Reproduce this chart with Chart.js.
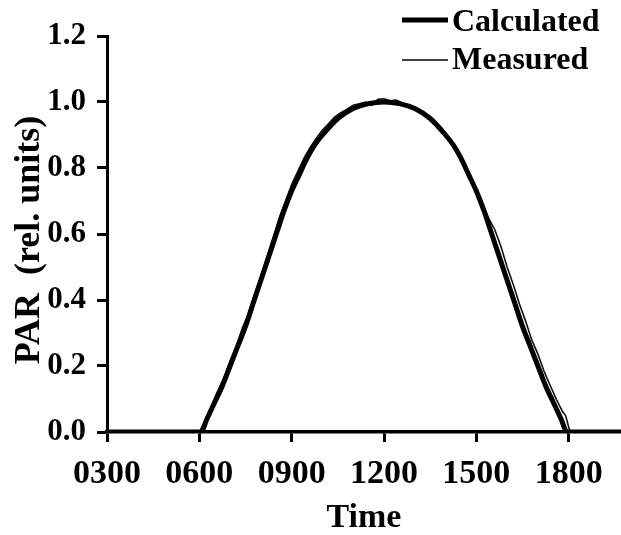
<!DOCTYPE html>
<html>
<head>
<meta charset="utf-8">
<script src="https://cdn.jsdelivr.net/npm/chart.js@4/dist/chart.umd.min.js"></script>
<style>
  html, body { margin: 0; padding: 0; background: #fff; }
  #wrap { width: 621px; height: 535px; }
</style>
</head>
<body>
<div id="wrap"><canvas id="c" width="621" height="535"></canvas></div>
<script>
// ---- data (time in hours, PAR in relative units) ----
const calcTimes = [3, 6.05, 6.25, 6.5, 6.75, 7.0, 7.25, 7.5, 7.75, 8.0, 8.25, 8.5, 8.75, 9.0, 9.25, 9.5, 9.75, 10.0, 10.5, 11.0, 11.5, 12.0,
  12.5, 13.0, 13.5, 14.0, 14.25, 14.5, 14.75, 15.0, 15.25, 15.5, 15.75, 16.0, 16.25, 16.5, 16.75, 17.0, 17.25, 17.5, 17.75, 17.95, 19.7];
const calcValues = [0, 0, 0.04, 0.09, 0.14, 0.20, 0.26, 0.32, 0.39, 0.46, 0.53, 0.60, 0.67, 0.73, 0.78, 0.83, 0.87, 0.90, 0.95, 0.98, 0.995, 1.0,
  0.995, 0.98, 0.95, 0.90, 0.87, 0.83, 0.78, 0.73, 0.67, 0.60, 0.53, 0.46, 0.39, 0.32, 0.26, 0.20, 0.14, 0.09, 0.04, 0, 0];

const measTimes = [3, 5.9, 6.0, 6.2, 6.4, 6.6, 6.8, 7.0, 7.2, 7.4, 7.6, 7.8, 8.0, 8.2, 8.4, 8.6, 8.8, 9.0, 9.2, 9.4, 9.6, 9.8,
  10.0, 10.2, 10.4, 10.6, 10.8, 11.0, 11.2, 11.4, 11.6, 11.8, 12.0, 12.2, 12.4, 12.6, 12.8, 13.0, 13.2, 13.4, 13.6, 13.8,
  14.0, 14.2, 14.4, 14.6, 14.8, 15.0, 15.2, 15.4, 15.6, 15.8, 16.0, 16.2, 16.4, 16.6, 16.8, 17.0, 17.2, 17.4, 17.6, 17.8,
  17.9, 18.0, 18.05, 19.7];
const measValues = [0, 0, 0, 0.035, 0.08, 0.125, 0.165, 0.215, 0.26, 0.315, 0.36, 0.42, 0.47, 0.53, 0.59, 0.65, 0.70, 0.75, 0.79, 0.83, 0.862, 0.89,
  0.915, 0.935, 0.955, 0.968, 0.978, 0.99, 0.995, 1.0, 0.99, 1.008, 1.01, 1.004, 1.006, 0.997, 0.99, 0.982, 0.972, 0.955, 0.943, 0.92,
  0.903, 0.876, 0.852, 0.818, 0.779, 0.738, 0.69, 0.648, 0.613, 0.562, 0.50, 0.447, 0.388, 0.336, 0.279, 0.236, 0.184, 0.141, 0.099, 0.062,
  0.05, 0.015, 0, 0];

const xTickValues = [3, 6, 9, 12, 15, 18];
const xTickLabels = ["0300", "0600", "0900", "1200", "1500", "1800"];
const yTickValues = [0, 0.2, 0.4, 0.6, 0.8, 1.0, 1.2];
const seriesNames = ["Calculated", "Measured"];
const xTitle = "Time";
const yTitle = "PAR  (rel. units)";

// ---- build ----
const toXY = (xs, ys) => xs.map((x, i) => ({ x: x, y: ys[i] }));
const FONT = "'Liberation Serif', 'Times New Roman', serif";

const legendPlugin = {
  id: 'customLegend',
  afterDraw(chart) {
    const ctx = chart.ctx;
    ctx.save();
    ctx.fillStyle = '#000';
    ctx.strokeStyle = '#000';
    ctx.font = 'bold 32px ' + FONT;
    ctx.textBaseline = 'alphabetic';
    ctx.textAlign = 'left';
    const rows = [
      { y: 20, base: 31, w: 5 },
      { y: 60, base: 69, w: 1.5 }
    ];
    rows.forEach((r, i) => {
      const ds = chart.data.datasets[i];
      ctx.lineWidth = r.w;
      ctx.beginPath();
      ctx.moveTo(402, r.y);
      ctx.lineTo(448, r.y);
      ctx.stroke();
      ctx.fillText(ds.label, 452, r.base);
    });
    // y-axis title (rotated)
    ctx.font = 'bold 36px ' + FONT;
    ctx.textAlign = 'center';
    ctx.textBaseline = 'middle';
    ctx.translate(30, 240);
    ctx.rotate(-Math.PI / 2);
    ctx.fillText(yTitle, 0, 0);
    ctx.restore();
  }
};

new Chart(document.getElementById('c'), {
  type: 'line',
  data: {
    datasets: [
      {
        label: seriesNames[0],
        data: toXY(calcTimes, calcValues),
        borderColor: '#000',
        borderWidth: 5,
        pointRadius: 0,
        cubicInterpolationMode: 'monotone',
        fill: false
      },
      {
        label: seriesNames[1],
        data: toXY(measTimes, measValues),
        borderColor: '#111',
        borderWidth: 1.6,
        pointRadius: 0,
        tension: 0,
        fill: false
      }
    ]
  },
  options: {
    responsive: false,
    animation: false,
    devicePixelRatio: 1,
    layout: { padding: { top: 36, right: 0, bottom: 0, left: 0 } },
    plugins: {
      legend: { display: false },
      tooltip: { enabled: false }
    },
    scales: {
      x: {
        type: 'linear',
        min: 3,
        max: 19.7,
        afterBuildTicks: (s) => { s.ticks = xTickValues.map(v => ({ value: v })); },
        afterFit: (s) => { s.height = 103; },
        ticks: {
          color: '#000',
          font: { family: FONT, size: 34, weight: 'bold' },
          padding: 12,
          maxRotation: 0,
          autoSkip: false,
          callback: (v) => { const i = xTickValues.indexOf(v); return i >= 0 ? xTickLabels[i] : ''; }
        },
        grid: { display: true, drawOnChartArea: false, drawTicks: true, tickLength: 10, tickWidth: 3, tickColor: '#000' },
        border: { display: true, color: '#000', width: 3.5 },
        title: {
          display: true,
          text: xTitle,
          color: '#000',
          font: { family: FONT, size: 34, weight: 'bold', lineHeight: 1 },
          padding: { top: 0, bottom: 0 }
        }
      },
      y: {
        min: 0,
        max: 1.2,
        afterBuildTicks: (s) => { s.ticks = yTickValues.map(v => ({ value: v })); },
        afterFit: (s) => { s.width = 107; },
        ticks: {
          color: '#000',
          font: { family: FONT, size: 31, weight: 'bold' },
          padding: 11,
          callback: (v) => Number(v).toFixed(1)
        },
        grid: { display: true, drawOnChartArea: false, drawTicks: true, tickLength: 10, tickWidth: 3, tickColor: '#000' },
        border: { display: true, color: '#000', width: 3 },
        title: { display: false }
      }
    }
  },
  plugins: [legendPlugin]
});
</script>
</body>
</html>
